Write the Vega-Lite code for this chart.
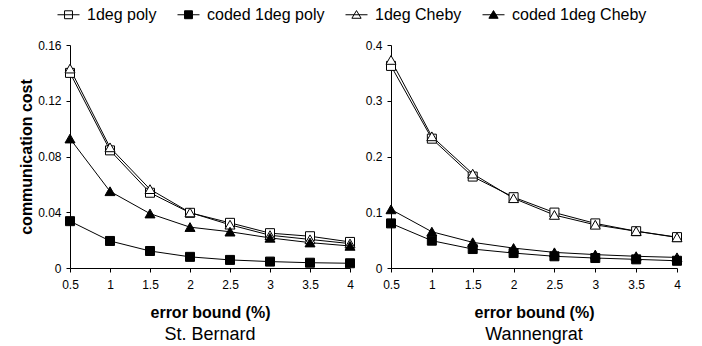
{
  "$schema": "https://vega.github.io/schema/vega-lite/v6.json",
  "background": "white",
  "padding": {"left": 18, "top": 3, "right": 0, "bottom": 0},
  "config": {
    "font": "Liberation Sans",
    "view": {"stroke": null},
    "axis": {
      "domainColor": "black", "tickColor": "black", "labelColor": "black", "titleColor": "black",
      "grid": false, "labelFont": "Liberation Sans", "titleFont": "Liberation Sans",
      "labelFontSize": 12, "titleFontSize": 16, "titleFontWeight": "bold",
      "tickSize": 4, "domainWidth": 1, "tickWidth": 1, "labelOverlap": false, "labelFlush": false
    }
  },
  "datasets": {
    "stb": [
      {"series": "1deg poly", "eb": 0.5, "cost": 0.140}, {"series": "1deg poly", "eb": 1, "cost": 0.0844}, {"series": "1deg poly", "eb": 1.5, "cost": 0.054}, {"series": "1deg poly", "eb": 2, "cost": 0.0396}, {"series": "1deg poly", "eb": 2.5, "cost": 0.0324}, {"series": "1deg poly", "eb": 3, "cost": 0.025}, {"series": "1deg poly", "eb": 3.5, "cost": 0.0228}, {"series": "1deg poly", "eb": 4, "cost": 0.0187},
      {"series": "coded 1deg poly", "eb": 0.5, "cost": 0.0336}, {"series": "coded 1deg poly", "eb": 1, "cost": 0.0194}, {"series": "coded 1deg poly", "eb": 1.5, "cost": 0.0122}, {"series": "coded 1deg poly", "eb": 2, "cost": 0.008}, {"series": "coded 1deg poly", "eb": 2.5, "cost": 0.0058}, {"series": "coded 1deg poly", "eb": 3, "cost": 0.0046}, {"series": "coded 1deg poly", "eb": 3.5, "cost": 0.0038}, {"series": "coded 1deg poly", "eb": 4, "cost": 0.0034},
      {"series": "1deg Cheby", "eb": 0.5, "cost": 0.143}, {"series": "1deg Cheby", "eb": 1, "cost": 0.0865}, {"series": "1deg Cheby", "eb": 1.5, "cost": 0.0565}, {"series": "1deg Cheby", "eb": 2, "cost": 0.0398}, {"series": "1deg Cheby", "eb": 2.5, "cost": 0.031}, {"series": "1deg Cheby", "eb": 3, "cost": 0.0235}, {"series": "1deg Cheby", "eb": 3.5, "cost": 0.0205}, {"series": "1deg Cheby", "eb": 4, "cost": 0.0175},
      {"series": "coded 1deg Cheby", "eb": 0.5, "cost": 0.0928}, {"series": "coded 1deg Cheby", "eb": 1, "cost": 0.055}, {"series": "coded 1deg Cheby", "eb": 1.5, "cost": 0.039}, {"series": "coded 1deg Cheby", "eb": 2, "cost": 0.0293}, {"series": "coded 1deg Cheby", "eb": 2.5, "cost": 0.026}, {"series": "coded 1deg Cheby", "eb": 3, "cost": 0.0216}, {"series": "coded 1deg Cheby", "eb": 3.5, "cost": 0.0182}, {"series": "coded 1deg Cheby", "eb": 4, "cost": 0.0158}
    ],
    "wan": [
      {"series": "1deg poly", "eb": 0.5, "cost": 0.3625}, {"series": "1deg poly", "eb": 1, "cost": 0.232}, {"series": "1deg poly", "eb": 1.5, "cost": 0.164}, {"series": "1deg poly", "eb": 2, "cost": 0.127}, {"series": "1deg poly", "eb": 2.5, "cost": 0.0994}, {"series": "1deg poly", "eb": 3, "cost": 0.080}, {"series": "1deg poly", "eb": 3.5, "cost": 0.066}, {"series": "1deg poly", "eb": 4, "cost": 0.0554},
      {"series": "coded 1deg poly", "eb": 0.5, "cost": 0.080}, {"series": "coded 1deg poly", "eb": 1, "cost": 0.049}, {"series": "coded 1deg poly", "eb": 1.5, "cost": 0.034}, {"series": "coded 1deg poly", "eb": 2, "cost": 0.0268}, {"series": "coded 1deg poly", "eb": 2.5, "cost": 0.021}, {"series": "coded 1deg poly", "eb": 3, "cost": 0.0179}, {"series": "coded 1deg poly", "eb": 3.5, "cost": 0.0155}, {"series": "coded 1deg poly", "eb": 4, "cost": 0.013},
      {"series": "1deg Cheby", "eb": 0.5, "cost": 0.373}, {"series": "1deg Cheby", "eb": 1, "cost": 0.236}, {"series": "1deg Cheby", "eb": 1.5, "cost": 0.169}, {"series": "1deg Cheby", "eb": 2, "cost": 0.125}, {"series": "1deg Cheby", "eb": 2.5, "cost": 0.095}, {"series": "1deg Cheby", "eb": 3, "cost": 0.0774}, {"series": "1deg Cheby", "eb": 3.5, "cost": 0.066}, {"series": "1deg Cheby", "eb": 4, "cost": 0.0548},
      {"series": "coded 1deg Cheby", "eb": 0.5, "cost": 0.105}, {"series": "coded 1deg Cheby", "eb": 1, "cost": 0.065}, {"series": "coded 1deg Cheby", "eb": 1.5, "cost": 0.046}, {"series": "coded 1deg Cheby", "eb": 2, "cost": 0.0357}, {"series": "coded 1deg Cheby", "eb": 2.5, "cost": 0.028}, {"series": "coded 1deg Cheby", "eb": 3, "cost": 0.024}, {"series": "coded 1deg Cheby", "eb": 3.5, "cost": 0.021}, {"series": "coded 1deg Cheby", "eb": 4, "cost": 0.019}
    ]
  },
  "spacing": 16,
  "resolve": {
    "scale": {"shape": "independent", "fill": "independent"},
    "legend": {"shape": "independent", "fill": "independent"}
  },
  "vconcat": [
    {
      "width": 1,
      "height": 1,
      "data": {"name": "stb"},
      "transform": [{"filter": "false"}],
      "mark": {"type": "point", "filled": true, "stroke": "black", "strokeWidth": 1, "opacity": 1, "size": 484},
      "encoding": {
        "shape": {"field": "series", "type": "nominal", "scale": {"domain": ["1deg poly", "coded 1deg poly", "1deg Cheby", "coded 1deg Cheby"], "range": ["M-1,0H1M-0.36,-0.36H0.36V0.36H-0.36Z", "M-1,0H1M-0.36,-0.36H0.36V0.36H-0.36Z", "M-1,0H1M0,-0.38L0.42,0.32H-0.42Z", "M-1,0H1M0,-0.38L0.42,0.32H-0.42Z"]},
                  "legend": {"orient": "none", "legendX": -13, "legendY": 0, "direction": "horizontal", "columns": 4, "title": null, "labelFontSize": 16, "labelFont": "Liberation Sans", "labelColor": "black", "symbolSize": 484, "symbolStrokeWidth": 1, "symbolStrokeColor": "black", "labelOffset": 7, "columnPadding": 18, "padding": 0, "labelLimit": 300, "symbolOpacity": 1,
                             "encode": {"symbols": {"update": {"stroke": {"value": "black"}, "strokeWidth": {"value": 1}, "opacity": {"value": 1}}}}}},
        "fill": {"field": "series", "type": "nominal", "scale": {"domain": ["1deg poly", "coded 1deg poly", "1deg Cheby", "coded 1deg Cheby"], "range": ["white", "black", "white", "black"]},
                 "legend": {"orient": "none", "legendX": -13, "legendY": 0, "direction": "horizontal", "columns": 4, "title": null, "labelFontSize": 16, "labelFont": "Liberation Sans", "labelColor": "black", "symbolSize": 484, "symbolStrokeWidth": 1, "symbolStrokeColor": "black", "labelOffset": 7, "columnPadding": 18, "padding": 0, "labelLimit": 300, "symbolOpacity": 1,
                            "encode": {"symbols": {"update": {"stroke": {"value": "black"}, "strokeWidth": {"value": 1}, "opacity": {"value": 1}}}}}}
      }
    },
    {
      "spacing": 8,
      "resolve": {
        "scale": {"shape": "independent", "fill": "independent", "x": "independent", "y": "independent"},
        "legend": {"shape": "independent", "fill": "independent"}
      },
      "hconcat": [
        {
          "width": 280,
          "height": 223,
          "data": {"name": "stb"},
          "title": {"text": "St. Bernard", "orient": "bottom", "frame": "group", "anchor": "middle", "fontSize": 18, "fontWeight": "normal", "font": "Liberation Sans", "color": "black", "offset": 6, "baseline": "top"},
          "encoding": {
            "x": {"field": "eb", "type": "quantitative", "scale": {"domain": [0.5, 4], "nice": false, "zero": false},
                  "axis": {"values": [0.5, 1, 1.5, 2, 2.5, 3, 3.5, 4], "format": "~g", "labelPadding": 7, "titlePadding": 14, "title": "error bound (%)"}},
            "y": {"field": "cost", "type": "quantitative", "scale": {"domain": [0, 0.16], "nice": false},
                  "axis": {"values": [0, 0.04, 0.08, 0.12, 0.16], "format": "~g", "labelPadding": 5, "title": "communication cost",
                           "titleX": -44, "titleY": 111.5, "titleAngle": 270, "titleBaseline": "middle", "titleAlign": "center"}}
          },
          "layer": [
            {"mark": {"type": "line", "color": "black", "strokeWidth": 1}, "encoding": {"detail": {"field": "series"}}},
            {"mark": {"type": "point", "filled": true, "stroke": "black", "strokeWidth": 1, "opacity": 1, "size": 100},
             "encoding": {
               "shape": {"field": "series", "type": "nominal", "scale": {"domain": ["1deg poly", "coded 1deg poly", "1deg Cheby", "coded 1deg Cheby"], "range": ["M-0.9,-0.9H0.9V0.9H-0.9Z", "M-0.9,-0.9H0.9V0.9H-0.9Z", "M0,-0.9L1,0.85H-1Z", "M0,-0.9L1,0.85H-1Z"]}, "legend": null},
               "fill": {"field": "series", "type": "nominal", "scale": {"domain": ["1deg poly", "coded 1deg poly", "1deg Cheby", "coded 1deg Cheby"], "range": ["white", "black", "white", "black"]}, "legend": null}
             }}
          ]
        },
        {
          "width": 286,
          "height": 223,
          "data": {"name": "wan"},
          "title": {"text": "Wannengrat", "orient": "bottom", "frame": "group", "anchor": "middle", "fontSize": 18, "fontWeight": "normal", "font": "Liberation Sans", "color": "black", "offset": 6, "baseline": "top"},
          "encoding": {
            "x": {"field": "eb", "type": "quantitative", "scale": {"domain": [0.5, 4], "nice": false, "zero": false},
                  "axis": {"values": [0.5, 1, 1.5, 2, 2.5, 3, 3.5, 4], "format": "~g", "labelPadding": 7, "titlePadding": 14, "title": "error bound (%)"}},
            "y": {"field": "cost", "type": "quantitative", "scale": {"domain": [0, 0.4], "nice": false},
                  "axis": {"values": [0, 0.1, 0.2, 0.3, 0.4], "format": "~g", "labelPadding": 5, "title": null}}
          },
          "layer": [
            {"mark": {"type": "line", "color": "black", "strokeWidth": 1}, "encoding": {"detail": {"field": "series"}}},
            {"mark": {"type": "point", "filled": true, "stroke": "black", "strokeWidth": 1, "opacity": 1, "size": 100},
             "encoding": {
               "shape": {"field": "series", "type": "nominal", "scale": {"domain": ["1deg poly", "coded 1deg poly", "1deg Cheby", "coded 1deg Cheby"], "range": ["M-0.9,-0.9H0.9V0.9H-0.9Z", "M-0.9,-0.9H0.9V0.9H-0.9Z", "M0,-0.9L1,0.85H-1Z", "M0,-0.9L1,0.85H-1Z"]}, "legend": null},
               "fill": {"field": "series", "type": "nominal", "scale": {"domain": ["1deg poly", "coded 1deg poly", "1deg Cheby", "coded 1deg Cheby"], "range": ["white", "black", "white", "black"]}, "legend": null}
             }}
          ]
        }
      ]
    }
  ]
}
